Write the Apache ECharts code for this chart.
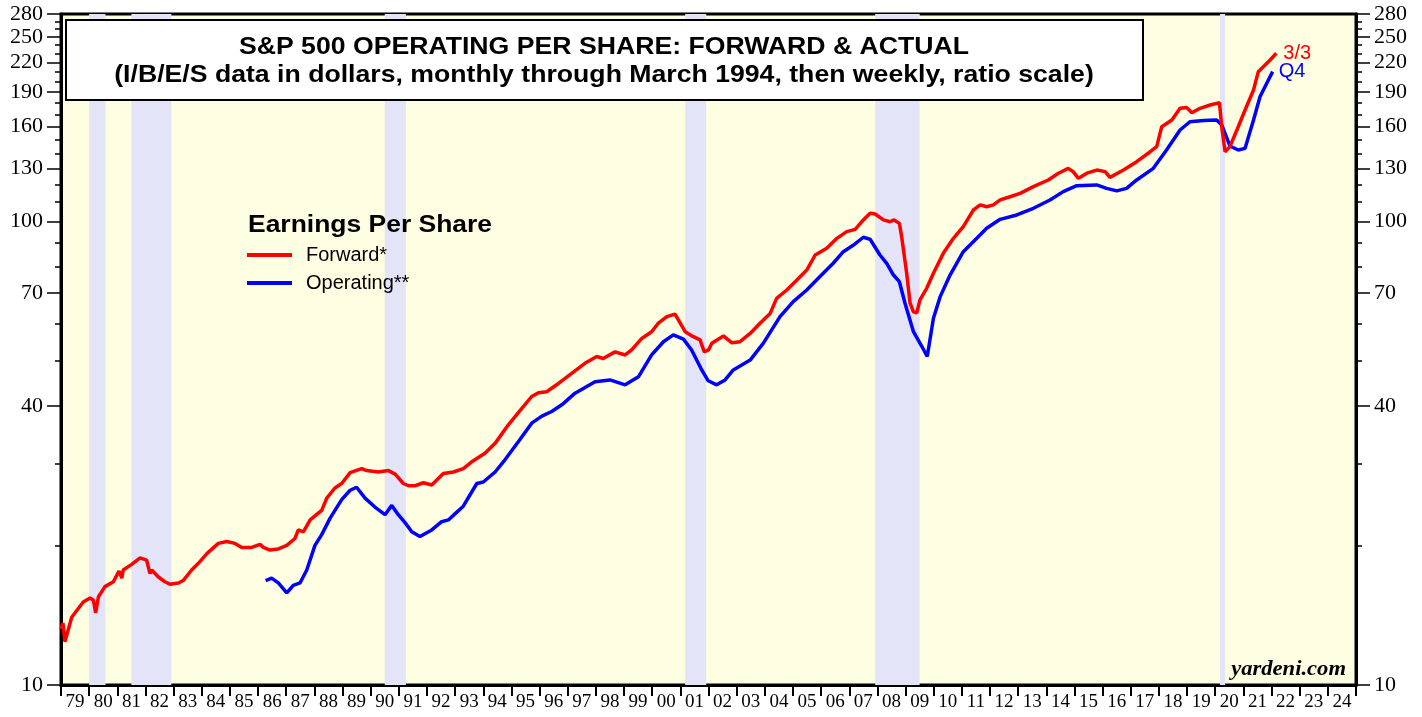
<!DOCTYPE html>
<html>
<head>
<meta charset="utf-8">
<title>S&P 500 Operating EPS: Forward & Actual</title>
<script src="https://cdn.jsdelivr.net/npm/echarts@6/dist/echarts.min.js"></script>
<style>
  html, body { margin: 0; padding: 0; background: #fff; }
  #chart { width: 1422px; height: 717px; }
</style>
</head>
<body>
<div id="chart"></div>
<script>
// forward earnings (red), dates as decimal years
var fwdDates = [
  1979.00,1979.07,1979.14,1979.38,1979.79,1980.03,1980.15,1980.23,1980.33,1980.56,
  1980.86,1981.06,1981.16,1981.21,1981.51,1981.81,1982.04,1982.11,1982.16,1982.22,
  1982.46,1982.69,1982.87,1983.17,1983.34,1983.64,1983.88,1984.18,1984.59,1984.89,
  1985.18,1985.42,1985.77,1986.07,1986.19,1986.42,1986.72,1987.02,1987.31,1987.43,
  1987.61,1987.85,1988.26,1988.44,1988.73,1988.97,1989.27,1989.68,1989.86,1990.27,
  1990.63,1990.87,1991.16,1991.34,1991.58,1991.87,1992.17,1992.58,1992.94,1993.29,
  1993.59,1994.06,1994.42,1994.89,1995.37,1995.72,1995.96,1996.25,1996.67,1997.14,
  1997.61,1998.03,1998.26,1998.68,1999.04,1999.27,1999.63,1999.98,2000.22,2000.52,
  2000.81,2000.93,2001.17,2001.46,2001.70,2001.85,2002.00,2002.12,2002.53,2002.83,
  2003.12,2003.48,2003.83,2004.19,2004.42,2004.78,2005.14,2005.49,2005.79,2006.20,
  2006.56,2006.91,2007.21,2007.50,2007.74,2007.92,2008.21,2008.45,2008.59,2008.78,
  2008.86,2009.04,2009.16,2009.28,2009.40,2009.51,2009.75,2009.99,2010.34,2010.70,
  2011.05,2011.41,2011.65,2011.88,2012.12,2012.36,2012.71,2013.07,2013.54,2014.07,
  2014.43,2014.78,2014.95,2015.14,2015.44,2015.79,2016.09,2016.26,2016.74,2017.21,
  2017.69,2017.92,2018.10,2018.46,2018.75,2018.99,2019.17,2019.46,2019.82,2020.15,
  2020.23,2020.35,2020.52,2020.77,2021.06,2021.36,2021.53,2021.77,2021.95,2022.17
];
var fwdEps = [
  13.2,13.6,12.4,14.0,15.1,15.4,15.25,14.3,15.5,16.3,
  16.7,17.6,17.0,17.7,18.2,18.8,18.6,18.7,17.4,17.7,
  17.1,16.7,16.5,16.6,16.8,17.7,18.3,19.2,20.2,20.4,
  20.2,19.8,19.8,20.1,19.8,19.55,19.65,20.0,20.7,21.6,
  21.4,22.7,23.8,25.3,26.6,27.2,28.7,29.3,29.0,28.8,
  29.0,28.5,27.2,26.9,26.9,27.3,27.0,28.6,28.8,29.3,
  30.3,31.6,33.2,36.4,39.5,41.9,42.7,42.9,44.7,47.0,
  49.4,51.1,50.6,52.3,51.5,52.8,55.9,57.8,60.3,62.3,
  63.1,61.3,57.8,56.4,55.5,52.3,52.8,54.6,56.6,54.7,
  55.0,57.3,60.3,63.3,68.2,71.1,74.7,78.5,84.6,87.5,
  91.9,95.0,96.1,100.7,104.1,103.7,100.7,99.8,100.7,99.0,
  92.7,77.3,66.6,63.8,63.5,67.7,71.7,77.3,85.3,91.9,
  97.4,105.8,108.5,107.5,108.5,111.2,113.0,114.9,118.8,122.8,
  127.0,130.1,128.0,123.8,127.0,129.0,128.0,124.4,129.0,134.5,
  141.3,144.9,160.0,165.4,175.3,175.9,171.5,175.3,178.2,180.3,
  160.0,141.3,144.9,157.4,173.8,192.0,210.3,217.4,222.8,230.4
];

// operating earnings (blue)
var opDates = [
  1986.27,1986.48,1986.72,1987.02,1987.25,1987.49,1987.73,1988.02,1988.26,1988.56,
  1988.97,1989.27,1989.50,1989.80,1990.15,1990.51,1990.75,1990.98,1991.22,1991.46,
  1991.75,1992.17,1992.52,1992.76,1993.06,1993.29,1993.77,1994.00,1994.42,1994.77,
  1995.25,1995.72,1996.08,1996.43,1996.79,1997.26,1997.97,1998.50,1999.04,1999.51,
  1999.98,2000.40,2000.75,2001.11,2001.40,2001.76,2001.99,2002.29,2002.59,2002.88,
  2003.48,2003.95,2004.54,2005.01,2005.49,2005.96,2006.43,2006.79,2007.15,2007.50,
  2007.74,2008.09,2008.33,2008.57,2008.78,2008.98,2009.28,2009.58,2009.77,2009.99,
  2010.23,2010.58,2011.05,2011.53,2011.88,2012.36,2012.95,2013.54,2014.13,2014.60,
  2015.08,2015.79,2016.14,2016.50,2016.85,2017.21,2017.80,2018.27,2018.75,2019.10,
  2019.58,2020.05,2020.23,2020.52,2020.82,2021.06,2021.36,2021.59,2021.83,2022.04
];
var opEps = [
  16.8,17.0,16.6,15.8,16.4,16.6,17.7,20.0,21.1,22.9,
  25.1,26.3,26.7,25.3,24.2,23.3,24.4,23.3,22.4,21.4,
  20.9,21.6,22.5,22.7,23.6,24.3,27.2,27.4,28.8,30.6,
  33.5,36.7,38.0,38.9,40.2,42.6,45.1,45.5,44.4,46.2,
  51.5,55.0,56.9,55.7,52.8,47.8,45.3,44.4,45.5,47.8,
  50.2,54.6,62.3,67.1,71.1,76.0,81.2,86.0,88.9,92.4,
  91.5,84.6,81.2,76.6,74.1,66.6,57.8,53.7,51.1,61.8,
  68.8,76.6,86.0,91.9,96.6,101.0,103.2,106.7,111.2,115.9,
  119.4,119.8,117.8,116.3,117.8,122.8,130.1,142.5,157.4,164.0,
  164.9,165.4,161.4,145.4,142.5,143.7,165.4,185.7,198.5,210.3
];

// recessions (shaded)
var recessions = [
  [1980.00, 1980.58], [1981.50, 1982.92], [1990.50, 1991.25],
  [2001.17, 2001.92], [2007.92, 2009.50], [2020.17, 2020.35]
];

var firstYear = 1979, lastYear = 2025;
var yMajor = [10, 40, 70, 100, 130, 160, 190, 220, 250, 280];
var yMinor = [10, 20, 30, 40, 50, 60, 70, 80, 90, 100, 110, 120, 130, 140, 150, 160, 170, 180, 190, 200, 210, 220, 230, 240, 250, 260, 270, 280];

var yearTicks = [], yearMids = [];
for (var y = firstYear; y <= lastYear; y++) {
  yearTicks.push(y);
  if (y < lastYear) yearMids.push(y + 0.5);
}

function pairs(xs, ys) {
  return xs.map(function (x, i) { return [x, ys[i]]; });
}

var serifFont = '"Liberation Serif", "Times New Roman", serif';
var sansFont = '"Liberation Sans", Arial, sans-serif';

function logAxis(pos, ticks, len, labels) {
  return {
    type: 'log', logBase: 10, min: 10, max: 280, position: pos,
    axisLine: { show: labels, lineStyle: { color: '#000', width: 3 } },
    axisTick: { show: true, customValues: ticks, length: len, lineStyle: { color: '#000', width: 1.5 } },
    axisLabel: labels ? {
      customValues: yMajor, color: '#000', fontFamily: serifFont, fontSize: 22, margin: 18
    } : { show: false },
    splitLine: { show: false }, minorTick: { show: false }
  };
}

var chart = echarts.init(document.getElementById('chart'));
chart.setOption({
  animation: false,
  backgroundColor: '#fff',
  grid: {
    left: 61, top: 14, width: 1295, height: 671, show: true,
    backgroundColor: '#fefee2', borderColor: '#000', borderWidth: 3
  },
  xAxis: {
    type: 'value', min: firstYear, max: lastYear, interval: 1,
    axisLine: { lineStyle: { color: '#000', width: 3 } },
    axisTick: { customValues: yearTicks, length: 11, lineStyle: { color: '#000', width: 2 } },
    axisLabel: {
      customValues: yearMids, color: '#000', fontFamily: serifFont, fontSize: 19, margin: 8,
      formatter: function (v) { return String(Math.floor(v) % 100).padStart(2, '0'); }
    },
    splitLine: { show: false }
  },
  yAxis: [
    logAxis('left', yMajor, 14, true),
    logAxis('left', yMinor, 6, false),
    logAxis('right', yMajor, 14, true),
    logAxis('right', yMinor, 6, false)
  ],
  legend: {
    orient: 'vertical', left: 242, top: 240, itemWidth: 45, itemHeight: 4, itemGap: 8,
    icon: 'rect', selectedMode: false,
    textStyle: { color: '#000', fontFamily: sansFont, fontSize: 20, padding: [0, 0, 0, 9] },
    data: ['Forward*', 'Operating**']
  },
  series: [
    {
      type: 'line', data: [], silent: true, z: 1,
      markArea: {
        silent: true,
        itemStyle: { color: '#e4e4f9' },
        data: recessions.map(function (r) { return [{ xAxis: r[0] }, { xAxis: r[1] }]; })
      }
    },
    {
      name: 'Operating**', type: 'line', data: pairs(opDates, opEps), z: 3,
      showSymbol: false, smooth: false,
      lineStyle: { color: '#0000ff', width: 3.5 }, itemStyle: { color: '#0000ff' },
      endLabel: { show: true, formatter: 'Q4', color: '#0000ff', fontFamily: sansFont, fontSize: 20, distance: 6 }
    },
    {
      name: 'Forward*', type: 'line', data: pairs(fwdDates, fwdEps), z: 4,
      showSymbol: false, smooth: false,
      lineStyle: { color: '#ff0000', width: 3.5 }, itemStyle: { color: '#ff0000' },
      endLabel: { show: true, formatter: '3/3', color: '#ff0000', fontFamily: sansFont, fontSize: 20, distance: 7 }
    }
  ],
  graphic: [
    {
      type: 'rect', z: 100,
      shape: { x: 66, y: 20, width: 1077, height: 80 },
      style: { fill: '#fff', stroke: '#000', lineWidth: 2 }
    },
    {
      type: 'text', z: 101, x: 604, y: 47, scaleX: 1.11,
      style: { text: 'S&P 500 OPERATING PER SHARE: FORWARD & ACTUAL', align: 'center', verticalAlign: 'middle',
        font: 'bold 24px ' + sansFont, fill: '#000' }
    },
    {
      type: 'text', z: 101, x: 604, y: 75, scaleX: 1.11,
      style: { text: '(I/B/E/S data in dollars, monthly through March 1994, then weekly, ratio scale)', align: 'center', verticalAlign: 'middle',
        font: 'bold 24px ' + sansFont, fill: '#000' }
    },
    {
      type: 'text', z: 101, x: 248, y: 226, scaleX: 1.15,
      style: { text: 'Earnings Per Share', align: 'left', verticalAlign: 'middle',
        font: 'bold 23px ' + sansFont, fill: '#000' }
    },
    {
      type: 'text', z: 101, x: 1346, y: 670, scaleX: 1.13,
      style: { text: 'yardeni.com', align: 'right', verticalAlign: 'middle',
        font: 'italic bold 20px ' + serifFont, fill: '#000' }
    }
  ]
});
</script>
</body>
</html>
